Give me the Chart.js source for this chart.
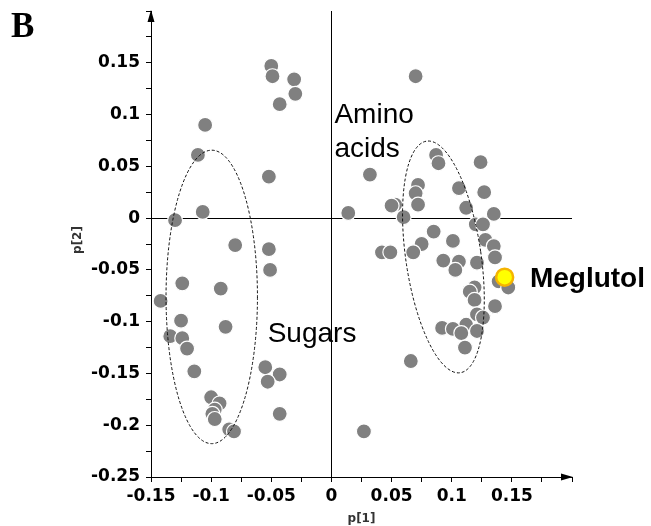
<!DOCTYPE html>
<html>
<head>
<meta charset="utf-8">
<script src="https://cdn.jsdelivr.net/npm/chart.js@4"></script>
<style>
  body { margin: 0; background: #fff; }
  #wrap { width: 651px; height: 526px; }
</style>
</head>
<body>
<div id="wrap"><canvas id="scoreChart" width="651" height="526"></canvas></div>
<script>
// Score plot p[1] / p[2]
var leftX = [-0.050, -0.049, -0.031, -0.030, -0.043, -0.105, -0.111, -0.052, -0.107, -0.130,
             -0.080, -0.052, -0.051, -0.124, -0.092, -0.142, -0.125, -0.088, -0.134, -0.124,
             -0.120, -0.114, -0.055, -0.043, -0.053, -0.100, -0.093, -0.097, -0.099, -0.097,
             -0.043, -0.085, -0.081];
var leftY = [0.147, 0.137, 0.134, 0.120, 0.110, 0.090, 0.061, 0.040, 0.006, -0.002,
             -0.026, -0.030, -0.050, -0.063, -0.068, -0.080, -0.099, -0.105, -0.114, -0.116,
             -0.126, -0.148, -0.144, -0.151, -0.158, -0.173, -0.179, -0.185, -0.189, -0.194,
             -0.189, -0.204, -0.206];

var rightX = [0.070, 0.032, 0.014, 0.087, 0.089, 0.124, 0.072, 0.070, 0.106, 0.127,
              0.053, 0.050, 0.072, 0.112, 0.060, 0.135, 0.120, 0.126, 0.085, 0.101,
              0.128, 0.075, 0.042, 0.049, 0.068, 0.135, 0.136, 0.093, 0.106, 0.103,
              0.121, 0.139, 0.147, 0.119, 0.115, 0.119, 0.136, 0.121, 0.126, 0.112,
              0.092, 0.101, 0.108, 0.121, 0.111, 0.066, 0.027];
var rightY = [0.137, 0.042, 0.005, 0.061, 0.053, 0.054, 0.032, 0.024, 0.029, 0.025,
              0.013, 0.012, 0.013, 0.010, 0.001, 0.004, -0.006, -0.006, -0.013, -0.022,
              -0.021, -0.025, -0.033, -0.033, -0.033, -0.027, -0.038, -0.041, -0.042, -0.050,
              -0.043, -0.061, -0.067, -0.067, -0.071, -0.079, -0.085, -0.093, -0.096, -0.103,
              -0.106, -0.107, -0.111, -0.109, -0.125, -0.138, -0.206];

var meglutolX = [0.144];
var meglutolY = [-0.057];

var xTickValues = [-0.15, -0.1, -0.05, 0, 0.05, 0.1, 0.15];
var xTickLabels = ['-0.15', '-0.1', '-0.05', '0', '0.05', '0.1', '0.15'];
var yTickValues = [-0.25, -0.2, -0.15, -0.1, -0.05, 0, 0.05, 0.1, 0.15];
var yTickLabels = ['-0.25', '-0.2', '-0.15', '-0.1', '-0.05', '0', '0.05', '0.1', '0.15'];

// Ellipses (centre, demi-axes en unités des axes, inclinaison en radians)
var ellipseCx = [-0.0995, 0.0931];
var ellipseCy = [-0.0761, -0.0375];
var ellipseRx = [0.038, 0.0313];
var ellipseRy = [0.1417, 0.113];
var ellipseTilt = [0, -0.144];

function toPoints(xs, ys) {
    return xs.map(function (v, i) { return { x: v, y: ys[i] }; });
}

function tickText(value, vals, labels) {
    var i = vals.findIndex(function (v) { return Math.abs(v - value) < 1e-6; });
    return i < 0 ? '' : labels[i];
}

function zeroLine(ctx) {
    return ctx.tick && Math.abs(ctx.tick.value) < 1e-9 ? '#000' : 'rgba(0,0,0,0)';
}

var FONT = "'Liberation Sans', Arial, sans-serif";
var TICK_FONT = "'DejaVu Sans', Verdana, sans-serif";

var overlay = {
    id: 'overlay',
    afterDatasetsDraw: function (chart) {
        var ctx = chart.ctx, x = chart.scales.x, y = chart.scales.y;
        ctx.save();
        ctx.setLineDash([3, 2]);
        ctx.lineWidth = 1;
        ctx.strokeStyle = '#111';
        ellipseCx.forEach(function (cx, i) {
            var px = x.getPixelForValue(cx);
            var py = y.getPixelForValue(ellipseCy[i]);
            var rx = Math.abs(x.getPixelForValue(cx + ellipseRx[i]) - px);
            var ry = Math.abs(y.getPixelForValue(ellipseCy[i] + ellipseRy[i]) - py);
            ctx.beginPath();
            ctx.ellipse(px, py, rx, ry, ellipseTilt[i], 0, 2 * Math.PI);
            ctx.stroke();
        });
        ctx.restore();
    },
    afterDraw: function (chart) {
        var ctx = chart.ctx, x = chart.scales.x, y = chart.scales.y;
        var area = chart.chartArea;
        ctx.save();
        // flèches des axes
        ctx.fillStyle = '#000';
        ctx.beginPath();
        ctx.moveTo(area.left, area.top - 1);
        ctx.lineTo(area.left - 3.5, area.top + 11);
        ctx.lineTo(area.left + 3.5, area.top + 11);
        ctx.closePath();
        ctx.fill();
        ctx.beginPath();
        ctx.moveTo(area.right + 1, area.bottom);
        ctx.lineTo(area.right - 11, area.bottom - 3.5);
        ctx.lineTo(area.right - 11, area.bottom + 3.5);
        ctx.closePath();
        ctx.fill();

        // textes
        ctx.fillStyle = '#000';
        ctx.textBaseline = 'alphabetic';
        ctx.textAlign = 'left';
        ctx.font = "bold 35px 'Liberation Serif', 'Times New Roman', serif";
        ctx.fillText('B', 11, 37);

        ctx.font = '28px ' + FONT;
        ctx.fillText('Amino', x.getPixelForValue(0.0025), y.getPixelForValue(0.092));
        ctx.fillText('acids', x.getPixelForValue(0.0025), y.getPixelForValue(0.059));
        ctx.fillText('Sugars', x.getPixelForValue(-0.053), y.getPixelForValue(-0.120));

        ctx.font = 'bold 28px ' + FONT;
        ctx.fillText('Meglutol', x.getPixelForValue(0.165), y.getPixelForValue(-0.067));

        ctx.fillStyle = '#333';
        ctx.font = 'bold 12px ' + TICK_FONT;
        ctx.textAlign = 'center';
        ctx.textBaseline = 'middle';
        ctx.fillText('p[1]', (area.left + area.right) / 2, 519);
        ctx.translate(78, 240);
        ctx.rotate(-Math.PI / 2);
        ctx.fillText('p[2]', 0, 0);
        ctx.restore();
    }
};

var greyPoint = {
    backgroundColor: '#808080',
    borderColor: '#ffffff',
    borderWidth: 1.2,
    pointRadius: 7.5
};

var scoreCanvas = document.getElementById('scoreChart').getContext('2d');
var scoreChart = new Chart(scoreCanvas, {
    type: 'scatter',
    data: {
        datasets: [
            {
                label: 'Meglutol',
                data: toPoints(meglutolX, meglutolY),
                backgroundColor: '#ffff00',
                borderColor: '#f5b400',
                borderWidth: 2.5,
                pointRadius: 8.5
            },
            Object.assign({ label: 'Amino acids', data: toPoints(rightX, rightY) }, greyPoint),
            Object.assign({ label: 'Sugars', data: toPoints(leftX, leftY) }, greyPoint)
        ]
    },
    options: {
        responsive: false,
        animation: false,
        layout: { padding: { left: 0, right: 79, top: 10, bottom: 0 } },
        plugins: {
            legend: { display: false },
            tooltip: { enabled: false }
        },
        scales: {
            x: {
                type: 'linear',
                min: -0.15,
                max: 0.2,
                afterFit: function (s) { s.height = 49; s.paddingLeft = 0; s.paddingRight = 0; },
                border: { color: '#000', width: 1 },
                grid: { color: zeroLine, lineWidth: 1, tickLength: 5, tickColor: '#000', tickWidth: 1 },
                ticks: {
                    stepSize: 0.025,
                    autoSkip: false,
                    maxRotation: 0,
                    padding: 4,
                    color: '#000',
                    font: { family: TICK_FONT, size: 17, weight: 'bold' },
                    callback: function (v) { return tickText(v, xTickValues, xTickLabels); }
                }
            },
            y: {
                type: 'linear',
                min: -0.25,
                max: 0.2,
                afterFit: function (s) { s.width = 151; s.paddingTop = 0; s.paddingBottom = 0; },
                border: { color: '#000', width: 1 },
                grid: { color: zeroLine, lineWidth: 1, tickLength: 5, tickColor: '#000', tickWidth: 1 },
                ticks: {
                    stepSize: 0.025,
                    autoSkip: false,
                    padding: 6,
                    color: '#000',
                    font: { family: TICK_FONT, size: 17, weight: 'bold' },
                    callback: function (v) { return tickText(v, yTickValues, yTickLabels); }
                }
            }
        }
    },
    plugins: [overlay]
});
</script>
</body>
</html>
